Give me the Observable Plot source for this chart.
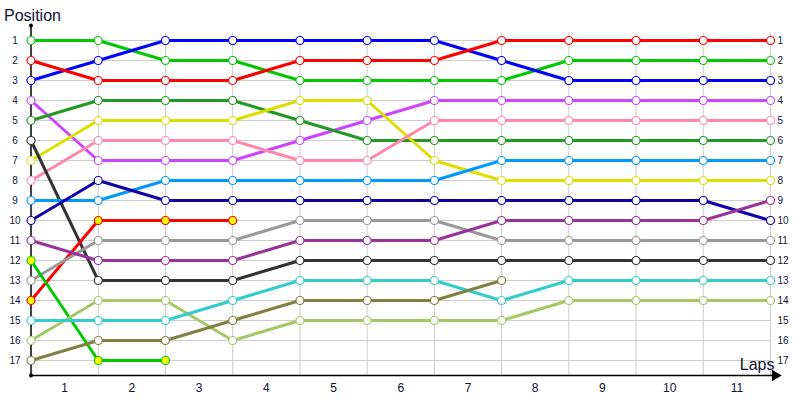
<!DOCTYPE html>
<html>
<head>
<meta charset="utf-8">
<script src="https://cdn.jsdelivr.net/npm/d3@7"></script>
<script src="https://cdn.jsdelivr.net/npm/@observablehq/plot@0.6"></script>
<style>
  html, body { margin: 0; padding: 0; background: #fff; }
</style>
</head>
<body>
<div id="chart"></div>
<script>
// ---- data ----
const laps = [0, 1, 2, 3, 4, 5, 6, 7, 8, 9, 10, 11];
const lapLabels = [1, 2, 3, 4, 5, 6, 7, 8, 9, 10, 11];
const positions = d3.range(1, 18);

const driverNames = ["green", "blue", "red", "violet", "darkgreen", "yellow", "pink", "black",
  "skyblue", "navy", "redOut", "gray", "plum", "greenOut", "lime", "cyan", "olive"];

const green     = [1, 1, 2, 2, 3, 3, 3, 3, 2, 2, 2, 2];
const blue      = [3, 2, 1, 1, 1, 1, 1, 2, 3, 3, 3, 3];
const red       = [2, 3, 3, 3, 2, 2, 2, 1, 1, 1, 1, 1];
const violet    = [4, 7, 7, 7, 6, 5, 4, 4, 4, 4, 4, 4];
const darkgreen = [5, 4, 4, 4, 5, 6, 6, 6, 6, 6, 6, 6];
const yellow    = [7, 5, 5, 5, 4, 4, 7, 8, 8, 8, 8, 8];
const pink      = [8, 6, 6, 6, 7, 7, 5, 5, 5, 5, 5, 5];
const black     = [6, 13, 13, 13, 12, 12, 12, 12, 12, 12, 12, 12];
const skyblue   = [9, 9, 8, 8, 8, 8, 8, 7, 7, 7, 7, 7];
const navy      = [10, 8, 9, 9, 9, 9, 9, 9, 9, 9, 9, 10];
const redOut    = [14, 10, 10, 10];
const gray      = [13, 11, 11, 11, 10, 10, 10, 11, 11, 11, 11, 11];
const plum      = [11, 12, 12, 12, 11, 11, 11, 10, 10, 10, 10, 9];
const greenOut  = [12, 17, 17];
const lime      = [16, 14, 14, 16, 15, 15, 15, 15, 14, 14, 14, 14];
const cyan      = [15, 15, 15, 14, 13, 13, 13, 14, 13, 13, 13, 13];
const olive     = [17, 16, 16, 15, 14, 14, 14, 13];

const retired = ["redOut", "greenOut"];

const seriesValues = [green, blue, red, violet, darkgreen, yellow, pink, black,
  skyblue, navy, redOut, gray, plum, greenOut, lime, cyan, olive];

// ---- styles ----
const lineColors = ["#00c800", "#0000ff", "#ff0000", "#cc44ff", "#229922", "#dddd00", "#ff88aa", "#333333",
  "#0099ff", "#1100aa", "#ff0000", "#999999", "#993399", "#00c800", "#a6c864", "#33cccc", "#808040"];

const table = [];
driverNames.forEach((name, i) => {
  seriesValues[i].forEach((pos, j) => {
    table.push({driver: name, lap: laps[j], pos});
  });
});

const font = "Liberation Sans, Arial, sans-serif";

const chart = Plot.plot({
  width: 800,
  height: 400,
  marginLeft: 30.5,
  marginRight: 30,
  marginTop: 25,
  marginBottom: 25,
  style: {fontFamily: font, background: "#fff"},
  x: {domain: [0, 11], axis: null},
  y: {domain: [0.25, 17.75], reverse: true, axis: null},
  color: {domain: driverNames, range: lineColors},
  marks: [
    // grid
    Plot.ruleY(positions, {y: d => d, x1: 0, x2: 11, stroke: "#cccccc", strokeWidth: 1}),
    Plot.ruleX(laps.slice(1), {x: d => d, y1: 0.62, y2: 17.75, stroke: "#cccccc", strokeWidth: 1}),
    // axes
    Plot.ruleX([0], {x: d => d, y1: 0.25, y2: 17.75, stroke: "#000", strokeWidth: 1.5}),
    Plot.ruleY([17.75], {y: d => d, x1: 0, x2: 11.1, stroke: "#000", strokeWidth: 1.5}),
    Plot.dot([[0, 0.25], [0, 17.75]], {x: d => d[0], y: d => d[1], r: 2, fill: "#000", stroke: null}),
    Plot.dot([[11.07, 17.75]], {x: d => d[0], y: d => d[1], symbol: "triangle", rotate: 90, r: 4.2, fill: "#000", stroke: null}),
    // tick labels
    Plot.text(positions, {x: 0, y: d => d, text: d => String(d), dx: -16, textAnchor: "middle", fontSize: 10, fill: "#111133"}),
    Plot.text(positions, {x: 11, y: d => d, text: d => String(d), dx: 7, textAnchor: "start", fontSize: 10, fill: "#111133"}),
    Plot.text(lapLabels, {x: d => d - 0.5, y: 17.75, text: d => String(d), dy: 13, textAnchor: "middle", fontSize: 12, fill: "#111133"}),
    // titles
    Plot.text(["Position"], {x: 0, y: 0.25, text: d => d, dx: -27, dy: -10, textAnchor: "start", fontSize: 16, fill: "#111133"}),
    Plot.text(["Laps"], {x: 11, y: 17.75, text: d => d, dx: 4, dy: -11, textAnchor: "end", fontSize: 16, fill: "#111133"}),
    // series
    Plot.line(table, {x: "lap", y: "pos", z: "driver", stroke: "driver", strokeWidth: 3, curve: "linear"}),
    Plot.dot(table, {
      x: "lap", y: "pos", stroke: "driver", r: 4, strokeWidth: 1.2,
      fill: d => retired.includes(d.driver) ? "#ffff00" : "#ffffff"
    })
  ]
});

document.getElementById("chart").appendChild(chart);
</script>
</body>
</html>
